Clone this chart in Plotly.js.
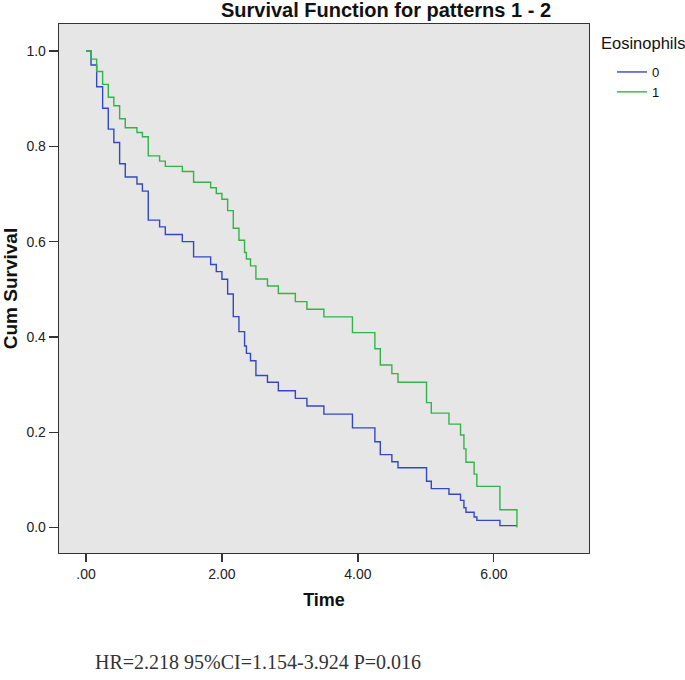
<!DOCTYPE html>
<html>
<head>
<meta charset="utf-8">
<script src="https://cdn.plot.ly/plotly-3.0.1.min.js"></script>
<style>body{margin:0;background:#fff;}#chart{width:685px;height:680px;}</style>
</head>
<body>
<div id="chart"></div>
<script>
// Step times (years) shared by both groups
const times = [0, 0.074, 0.157, 0.245, 0.328, 0.41, 0.495, 0.578, 0.75, 0.83, 0.916, 1.083, 1.167, 1.417, 1.583, 1.834, 1.917, 2.0, 2.084, 2.167, 2.25, 2.333, 2.36, 2.42, 2.50, 2.67, 2.83, 3.08, 3.25, 3.50, 3.92, 4.25, 4.33, 4.50, 4.59, 5.01, 5.08, 5.34, 5.51, 5.56, 5.59, 5.71, 5.75, 6.09, 6.34];
// Eosinophils = 0
const survival0 = [1.0, 0.9706, 0.925, 0.880, 0.836, 0.808, 0.7635, 0.7356, 0.721, 0.706, 0.645, 0.631, 0.615, 0.600, 0.568, 0.552, 0.537, 0.521, 0.490, 0.4425, 0.411, 0.381, 0.3655, 0.350, 0.319, 0.305, 0.287, 0.271, 0.255, 0.238, 0.209, 0.180, 0.153, 0.138, 0.1255, 0.097, 0.0815, 0.0697, 0.057, 0.0416, 0.032, 0.022, 0.015, 0.004, 0.004];
// Eosinophils = 1
const survival1 = [1.0, 0.983, 0.957, 0.930, 0.903, 0.885, 0.858, 0.839, 0.829, 0.820, 0.780, 0.769, 0.758, 0.747, 0.7245, 0.713, 0.701, 0.689, 0.665, 0.628, 0.603, 0.577, 0.5635, 0.549, 0.5215, 0.507, 0.491, 0.474, 0.458, 0.442, 0.409, 0.375, 0.341, 0.323, 0.305, 0.262, 0.240, 0.217, 0.194, 0.165, 0.137, 0.112, 0.0864, 0.0374, 0.0];
const groupNames = ['0', '1'];
const legendTitle = 'Eosinophils';
const xTickVals = [0, 2, 4, 6];
const xTickText = ['.00', '2.00', '4.00', '6.00'];
const yTickVals = [0, 0.2, 0.4, 0.6, 0.8, 1.0];
const yTickText = ['0.0', '0.2', '0.4', '0.6', '0.8', '1.0'];

const sans = 'Liberation Sans, Arial, sans-serif';
const traces = [
  {x: times, y: survival0, name: groupNames[0], type: 'scatter', mode: 'lines',
   line: {shape: 'hv', color: '#3448c0', width: 1.4}},
  {x: times, y: survival1, name: groupNames[1], type: 'scatter', mode: 'lines',
   line: {shape: 'hv', color: '#33b449', width: 1.4}}
];
const layout = {
  width: 685, height: 680,
  margin: {l: 59, r: 96, t: 24, b: 127},
  paper_bgcolor: '#ffffff', plot_bgcolor: '#e6e6e6',
  showlegend: true,
  title: {text: '<b>Survival Function for patterns 1 - 2</b>', font: {family: sans, size: 20, color: '#111'},
          x: 0.5635, xanchor: 'center', xref: 'container', y: 0.985, yanchor: 'middle', yref: 'container'},
  xaxis: {range: [-0.397, 7.40], tickvals: xTickVals, ticktext: xTickText,
          ticks: 'outside', ticklen: 8, tickwidth: 1.3, tickcolor: '#333',
          showline: true, linecolor: '#333', linewidth: 1.3, mirror: true,
          showgrid: false, zeroline: false,
          tickfont: {family: sans, size: 14, color: '#222'},
          title: {text: '<b>Time</b>', font: {family: sans, size: 18, color: '#111'}, standoff: 12}},
  yaxis: {range: [-0.0535, 1.0567], tickvals: yTickVals, ticktext: yTickText,
          ticks: 'outside', ticklen: 9, tickwidth: 1.3, tickcolor: '#333',
          showline: true, linecolor: '#333', linewidth: 1.3, mirror: true,
          showgrid: false, zeroline: false,
          tickfont: {family: sans, size: 14, color: '#222'},
          title: {text: '<b>Cum Survival</b>', font: {family: sans, size: 19, color: '#111'}, standoff: 8}},
  legend: {x: (612 - 59) / 530, xanchor: 'left', y: (553 - 57) / 529, yanchor: 'top', bgcolor: 'rgba(0,0,0,0)',
           font: {family: sans, size: 13, color: '#111'}, tracegroupgap: 0, itemwidth: 30},
  annotations: [
    {text: legendTitle, xref: 'paper', yref: 'paper', x: (599 - 59) / 530, y: (553 - 43) / 529,
     xanchor: 'left', yanchor: 'middle', showarrow: false,
     font: {family: sans, size: 16.5, color: '#111'}},
    {text: 'HR=2.218 95%CI=1.154-3.924 P=0.016', xref: 'paper', yref: 'paper',
     x: (93 - 59) / 530, y: -(662 - 553) / 529, xanchor: 'left', yanchor: 'middle', showarrow: false,
     font: {family: 'Liberation Serif, Times New Roman, serif', size: 20, color: '#333'}}
  ]
};
Plotly.newPlot('chart', traces, layout, {displayModeBar: false, staticPlot: true});
</script>
</body>
</html>
